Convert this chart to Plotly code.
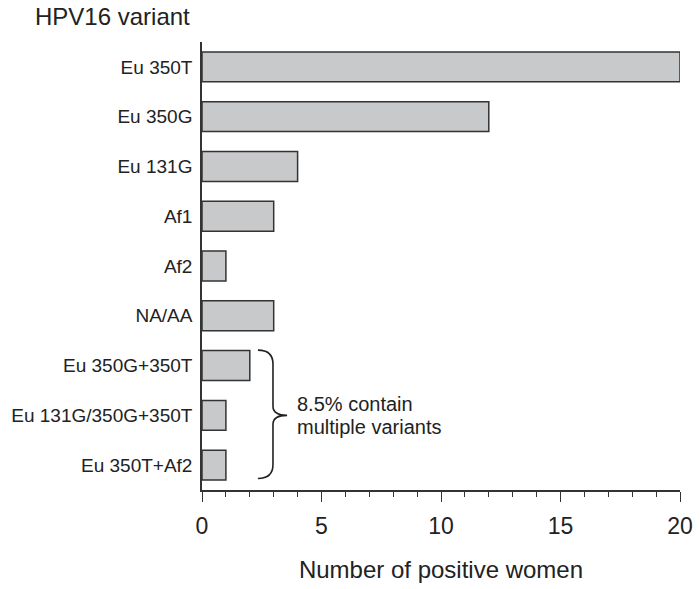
import plotly.graph_objects as go

categories = ["Eu 350T", "Eu 350G", "Eu 131G", "Af1", "Af2", "NA/AA",
              "Eu 350G+350T", "Eu 131G/350G+350T", "Eu 350T+Af2"]
counts = [20, 12, 4, 3, 1, 3, 2, 1, 1]
x_ticks = [0, 5, 10, 15, 20]
positions = list(range(len(categories)))

FONT = "Liberation Sans, Arial, sans-serif"
TXT = "#222222"

fig = go.Figure()
fig.add_trace(go.Bar(
    x=counts, y=positions, orientation="h",
    marker=dict(color="#c8c9cb", line=dict(color="#333333", width=1.5)),
    hoverinfo="x+y", showlegend=False,
))

# brace around the multiple-variant group (indices 6..8)
g0, g1 = positions[6], positions[8]
mid = (g0 + g1) / 2
top, bot = g0 - 0.31, g1 + 0.27
xl, xv, xt = 2.34, 2.97, 3.56
path = (f"M {xl},{top} Q {xv},{top} {xv},{top+0.28} "
        f"L {xv},{mid-0.18} Q {xv},{mid} {xt},{mid} "
        f"Q {xv},{mid} {xv},{mid+0.18} "
        f"L {xv},{bot-0.28} Q {xv},{bot} {xl},{bot}")
fig.add_shape(type="path", path=path, xref="x", yref="y",
              line=dict(color="#222222", width=1.6))

fig.add_annotation(x=xt + 0.33, y=mid - 0.22, xref="x", yref="y",
                   text="8.5% contain", showarrow=False, xanchor="left",
                   font=dict(family=FONT, size=20, color=TXT))
fig.add_annotation(x=xt + 0.33, y=mid + 0.23, xref="x", yref="y",
                   text="multiple variants", showarrow=False, xanchor="left",
                   font=dict(family=FONT, size=20, color=TXT))

fig.add_annotation(x=-0.021, y=1.058, xref="paper", yref="paper",
                   text="HPV16 variant", showarrow=False,
                   xanchor="right", yanchor="middle",
                   font=dict(family=FONT, size=24, color=TXT))

fig.update_layout(
    width=700, height=589,
    margin=dict(l=202, r=20, t=42, b=99),
    paper_bgcolor="white", plot_bgcolor="white",
    bargap=0.4,
    font=dict(family=FONT, color=TXT),
)
fig.update_xaxes(
    range=[0, 20], tickvals=x_ticks, ticks="outside", ticklen=10,
    tickwidth=1.3, tickcolor="#333333", ticklabelstandoff=5,
    ticklabeloverflow="allow", automargin=False,
    minor=dict(dtick=1, ticks="outside", ticklen=5, tickwidth=1.2, tickcolor="#333333"),
    showline=True, linecolor="#333333", linewidth=1.5,
    showgrid=False, zeroline=False,
    tickfont=dict(family=FONT, size=23, color=TXT),
    title=dict(text="Number of positive women", standoff=23,
               font=dict(family=FONT, size=24, color=TXT)),
)
fig.update_yaxes(
    range=[len(categories) - 0.5, -0.5],
    tickvals=positions, ticktext=categories, ticks="",
    ticklabelstandoff=4, automargin=False, ticklabeloverflow="allow",
    showline=True, linecolor="#333333", linewidth=1.5,
    showgrid=False, zeroline=False,
    tickfont=dict(family=FONT, size=19, color=TXT),
)

fig.write_html(
    "out.html",
    config={"displayModeBar": False},
    post_script="document.body.style.margin='0';document.body.style.overflow='hidden';",
)
